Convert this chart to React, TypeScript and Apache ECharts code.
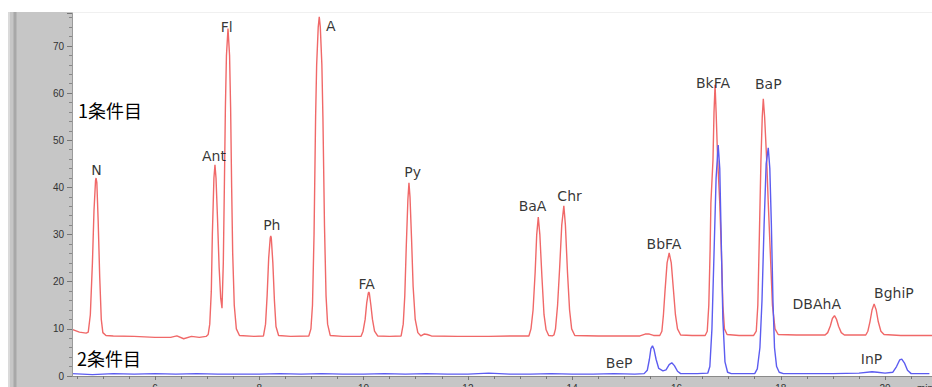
import React, { useEffect, useRef } from "react";
import * as echarts from "echarts";

// Trace 1 (1条件目), [retention time (min), signal]
const redTrace: [number, number][] = [
  [4.41, 9.9], [4.55, 9.3], [4.68, 9.1],
  [4.72, 9.3], [4.76, 13], [4.8, 24], [4.83, 35], [4.86, 41.5], [4.87, 42], [4.885, 41], [4.91, 33], [4.94, 21], [4.97, 12], [5.0, 9.2], [5.06, 8.6],
  [5.2, 8.5], [5.6, 8.4], [6.0, 8.2], [6.3, 8.2], [6.42, 8.5], [6.55, 7.9], [6.7, 8.4], [6.85, 8.2], [6.98, 8.4],
  [7.02, 8.8], [7.05, 11], [7.08, 18], [7.1, 30], [7.13, 42], [7.15, 44.8], [7.17, 42], [7.2, 33], [7.23, 23], [7.26, 16.5], [7.285, 14.4],
  [7.31, 24], [7.33, 40], [7.35, 57], [7.37, 68], [7.4, 73.7], [7.43, 68], [7.45, 57], [7.47, 40], [7.49, 26], [7.52, 15], [7.56, 10], [7.62, 8.6],
  [7.9, 8.4], [8.08, 8.5],
  [8.12, 11], [8.15, 17], [8.18, 25], [8.21, 29.3], [8.22, 29.7], [8.23, 29.3], [8.26, 24], [8.29, 16], [8.32, 10.5], [8.37, 8.6],
  [8.6, 8.4], [8.95, 8.5],
  [8.99, 10], [9.02, 15], [9.05, 30], [9.08, 55], [9.1, 66], [9.13, 74], [9.15, 76.2], [9.17, 74], [9.2, 66], [9.22, 55], [9.25, 32], [9.28, 17], [9.31, 11], [9.36, 8.6],
  [9.6, 8.4], [9.95, 8.4],
  [9.99, 9.5], [10.03, 12], [10.06, 15.5], [10.09, 17.6], [10.1, 17.8], [10.11, 17.6], [10.14, 15], [10.17, 12], [10.21, 9.5], [10.27, 8.5],
  [10.5, 8.4], [10.72, 8.5],
  [10.76, 11], [10.79, 17], [10.82, 28], [10.85, 37.5], [10.87, 41], [10.89, 38], [10.92, 29], [10.95, 19], [10.99, 12], [11.04, 9.2], [11.1, 8.5],
  [11.16, 8.9], [11.22, 8.8], [11.3, 8.5], [11.8, 8.4], [12.4, 8.4], [12.9, 8.5], [13.17, 8.5],
  [13.21, 10], [13.25, 14], [13.29, 22], [13.32, 30], [13.35, 33.7], [13.38, 30], [13.42, 21], [13.46, 13], [13.5, 9.8], [13.55, 8.6], [13.62, 8.5],
  [13.65, 8.7], [13.68, 10], [13.72, 15], [13.76, 23], [13.8, 32], [13.84, 36.1], [13.87, 32], [13.91, 22], [13.95, 14], [13.99, 10], [14.05, 8.6],
  [14.5, 8.5], [15.0, 8.5], [15.3, 8.5], [15.4, 8.9], [15.48, 8.9], [15.56, 8.6], [15.68, 8.6],
  [15.72, 9.5], [15.75, 13], [15.78, 18], [15.82, 24], [15.86, 26.1], [15.9, 24], [15.94, 18.5], [15.98, 13], [16.02, 10], [16.08, 8.7],
  [16.3, 8.6], [16.55, 8.6],
  [16.59, 9.5], [16.62, 15], [16.645, 26.7], [16.66, 36.7], [16.7, 45.8], [16.72, 56], [16.74, 61.8], [16.76, 56], [16.79, 45.8], [16.83, 36.7], [16.86, 26.7], [16.89, 15], [16.92, 10], [16.97, 8.8],
  [17.2, 8.6], [17.48, 8.6],
  [17.53, 9.5], [17.56, 15], [17.59, 30], [17.62, 45.8], [17.645, 55], [17.665, 58.8], [17.69, 55], [17.73, 45.8], [17.76, 36.7], [17.8, 26], [17.84, 15], [17.89, 10], [17.95, 8.8],
  [18.3, 8.7], [18.85, 8.7],
  [18.9, 9.2], [18.95, 10.6], [18.99, 12.2], [19.03, 12.8], [19.07, 12], [19.11, 10.5], [19.16, 9.2], [19.22, 8.7],
  [19.45, 8.7], [19.63, 8.7],
  [19.67, 9.5], [19.71, 11.5], [19.75, 14], [19.79, 15.3], [19.83, 14], [19.87, 11.5], [19.92, 9.5], [19.98, 8.8],
  [20.3, 8.6], [20.9, 8.6],
];

// Trace 2 (2条件目)
const blueTrace: [number, number][] = [
  [4.41, 0.5], [4.8, 0.3], [5.2, 0.5], [5.6, 0.4], [6.0, 0.5], [6.4, 0.4], [6.8, 0.5], [7.2, 0.4], [7.6, 0.4], [8.0, 0.4],
  [8.4, 0.5], [8.8, 0.4], [9.2, 0.5], [9.6, 0.4], [10.0, 0.4], [10.4, 0.5], [10.8, 0.4], [11.2, 0.5], [11.6, 0.4], [12.0, 0.4],
  [12.4, 0.6], [12.8, 0.4], [13.2, 0.4], [13.6, 0.5], [14.0, 0.4], [14.4, 0.4], [14.8, 0.5], [15.2, 0.4], [15.38, 0.5],
  [15.44, 1.2], [15.48, 3.5], [15.51, 5.8], [15.54, 6.4], [15.57, 5.6], [15.61, 3.5], [15.66, 1.6], [15.74, 1.1],
  [15.8, 1.3], [15.86, 2.4], [15.91, 2.8], [15.96, 2.2], [16.02, 1.0], [16.08, 0.5],
  [16.4, 0.5], [16.6, 0.6],
  [16.64, 2], [16.68, 10], [16.72, 26], [16.76, 42], [16.8, 49], [16.83, 44], [16.86, 28], [16.89, 12], [16.93, 3], [16.98, 0.8], [17.05, 0.5],
  [17.3, 0.5], [17.5, 0.5],
  [17.55, 1.5], [17.6, 6], [17.64, 16], [17.68, 32], [17.72, 45], [17.76, 48.4], [17.79, 44], [17.82, 32], [17.85, 16], [17.88, 6], [17.92, 2], [17.97, 0.8], [18.05, 0.5],
  [18.5, 0.5], [19.0, 0.5], [19.5, 0.6], [19.75, 0.9], [19.85, 0.8], [20.0, 0.6], [20.15, 0.8],
  [20.22, 2], [20.28, 3.4], [20.32, 3.6], [20.37, 2.8], [20.43, 1.2], [20.5, 0.5], [20.85, 0.5],
];

// Peak names with the position of each name in data units [time, signal]
const peakNames = ["N", "Ant", "Fl", "Ph", "A", "FA", "Py", "BaA", "Chr", "BbFA", "BkFA", "BaP", "DBAhA", "BghiP", "BeP", "InP"];
const peakNameTimes = [4.88, 7.13, 7.375, 8.24, 9.37, 10.06, 10.94, 13.24, 13.95, 15.76, 16.7, 17.76, 18.69, 20.17, 14.9, 19.74];
const peakNameSignals = [43.6, 46.7, 74.0, 32.0, 74.3, 19.5, 43.3, 36.1, 38.2, 28.0, 62.1, 61.9, 15.3, 17.7, 2.7, 3.6];

const traceNames = ["1条件目", "2条件目"];
const xTicks = { min: 4, max: 20.9, interval: 2 };
const yTicks = { min: 0, max: 77, interval: 10 };

export default function App() {
  const ref = useRef<HTMLDivElement>(null);
  useEffect(() => {
    if (!ref.current) return;
    const chart = echarts.init(ref.current, undefined, { renderer: "svg" });
    const labelData = peakNames.map((n, i) => ({ name: n, value: [peakNameTimes[i], peakNameSignals[i]] }));
    chart.setOption({
      animation: false,
      backgroundColor: "#ffffff",
      grid: { left: 50.7, right: 0, top: 13, height: 363 },
      xAxis: {
        type: "value",
        min: xTicks.min,
        max: xTicks.max,
        interval: xTicks.interval,
        z: 3,
        axisLine: { show: true, lineStyle: { color: "#8a8a8a", width: 1 } },
        axisTick: { show: true, length: 4, lineStyle: { color: "#777" } },
        minorTick: { show: true, splitNumber: 4, length: 3, lineStyle: { color: "#777" } },
        axisLabel: { color: "#333", fontSize: 10, margin: 7, showMinLabel: false, showMaxLabel: false, fontFamily: "Liberation Sans" },
        splitLine: { show: false },
      },
      yAxis: {
        type: "value",
        min: yTicks.min,
        max: yTicks.max,
        interval: yTicks.interval,
        offset: -21.3,
        z: 5,
        axisLine: { show: true, lineStyle: { color: "#9a9a9a", width: 1 } },
        axisTick: { show: true, length: 5, lineStyle: { color: "#777" } },
        minorTick: { show: true, splitNumber: 5, length: 3, lineStyle: { color: "#888" } },
        axisLabel: { color: "#333", fontSize: 10, margin: 8, showMaxLabel: false, fontFamily: "Liberation Sans" },
        splitLine: { show: false },
      },
      graphic: {
        elements: [
          { type: "rect", z: 0, shape: { x: 72, y: 377, width: 860, height: 30 }, style: { fill: "#c6c6c6" } },
          { type: "rect", z: 0, shape: { x: 72, y: 12, width: 860, height: 1 }, style: { fill: "#f0f0f0" } },
          { type: "rect", z: 4, shape: { x: 8, y: 12, width: 64, height: 400 }, style: { fill: "#c6c6c6" } },
          { type: "rect", z: 4, shape: { x: 8, y: 12, width: 2, height: 400 }, style: { fill: "#dadada" } },
          { type: "rect", z: 4, shape: { x: 13.5, y: 12, width: 3, height: 400 }, style: { fill: "#a8a8a8" } },
          { type: "text", z: 6, x: 78, y: 110, style: { text: traceNames[0], fontSize: 18, fontFamily: "Noto Sans CJK JP", fill: "#000", textVerticalAlign: "middle", verticalAlign: "middle" } },
          { type: "text", z: 6, x: 77, y: 358, style: { text: traceNames[1], fontSize: 18, fontFamily: "Noto Sans CJK JP", fill: "#000", textVerticalAlign: "middle", verticalAlign: "middle" } },
          { type: "text", z: 6, x: 917, y: 383, style: { text: "min", fontSize: 10, fontFamily: "Liberation Sans", fill: "#333" } },
        ],
      },
      series: [
        {
          type: "line",
          name: traceNames[0],
          data: redTrace,
          showSymbol: false,
          symbol: "none",
          lineStyle: { color: "#f06868", width: 1.4 },
          z: 2,
        },
        {
          type: "line",
          name: traceNames[1],
          data: blueTrace,
          showSymbol: false,
          symbol: "none",
          lineStyle: { color: "#5c5cf0", width: 1.4 },
          z: 2,
        },
        {
          type: "scatter",
          data: labelData,
          symbolSize: 0,
          silent: true,
          z: 3,
          label: {
            show: true,
            position: "inside",
            formatter: "{b}",
            fontFamily: "DejaVu Sans",
            fontSize: 14,
            color: "#000",
          },
        },
      ],
    });
    return () => chart.dispose();
  }, []);
  return <div ref={ref} style={{ position: "fixed", left: 0, top: 0, width: 932, height: 400 }} />;
}
